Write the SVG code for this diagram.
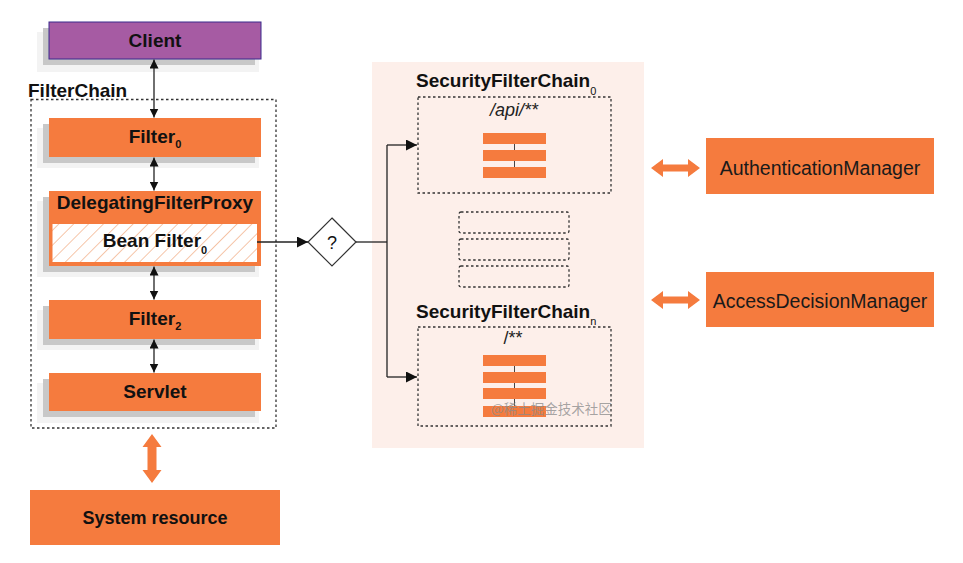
<svg xmlns="http://www.w3.org/2000/svg" width="963" height="563" viewBox="0 0 963 563">
<defs>
<style>
.halo{fill:#f3f3f3}
.shadow{fill:#c8c8c8}
.orange{fill:#f57b3e}
.lbl{font-family:"Liberation Sans",Arial,sans-serif;font-weight:bold;font-size:19px;fill:#111}
.sub{font-size:11px}
.mgr{font-family:"Liberation Sans",Arial,sans-serif;font-size:19.5px;fill:#1a1a1a}
.dash{fill:none;stroke:#333;stroke-width:1.3;stroke-dasharray:2.5 2.5}
.conn{fill:none;stroke:#222;stroke-width:1.3}
.bar{fill:#f57b3e}
.fat{fill:#f57b3e}
</style>
<marker id="ah" viewBox="0 0 10 10" refX="10" refY="5" markerWidth="9" markerHeight="9" markerUnits="userSpaceOnUse" orient="auto-start-reverse">
<path d="M0,0 L10,5 L0,10 z" fill="#111"/>
</marker>
<marker id="ah2" viewBox="0 0 10 10" refX="10" refY="5" markerWidth="12" markerHeight="11" markerUnits="userSpaceOnUse" orient="auto-start-reverse">
<path d="M0,0 L10,5 L0,10 z" fill="#111"/>
</marker>
<pattern id="hatch" patternUnits="userSpaceOnUse" width="10.5" height="10.5" patternTransform="rotate(45)">
<rect width="10.5" height="10.5" fill="#ffffff"/>
<line x1="0" y1="0" x2="0" y2="10.5" stroke="#f0a070" stroke-width="1.2"/>
</pattern>
</defs>
<rect width="963" height="563" fill="#ffffff"/>

<!-- security panel background -->
<rect id="panel" x="372" y="62" width="272" height="386" fill="#fdefea"/>

<text x="28" y="97" class="lbl">FilterChain</text>
<rect id="filterchain" x="31" y="99.5" width="245" height="328.5" class="dash"/>

<g id="client">
<rect x="37" y="32" width="222" height="40" class="halo"/>
<rect x="43" y="28" width="212" height="37" class="shadow"/>
<rect x="49" y="22" width="212" height="37" fill="#a65ba3" stroke="#3b2b8c" stroke-width="1"/>
<text x="155" y="46.5" text-anchor="middle" class="lbl">Client</text>
</g>

<g id="filter0">
<rect x="37" y="128" width="222" height="40" class="halo"/>
<rect x="43" y="124" width="212" height="39" class="shadow"/>
<rect x="49" y="118" width="212" height="39" class="orange"/>
<text x="155" y="143" text-anchor="middle" class="lbl">Filter<tspan class="sub" dy="5">0</tspan></text>
</g>

<g id="delegating">
<rect x="37" y="201" width="222" height="76" class="halo"/>
<rect x="43" y="197" width="212" height="75" class="shadow"/>
<rect x="49" y="191" width="212" height="75" class="orange"/>
<text x="155" y="209" text-anchor="middle" class="lbl">DelegatingFilterProxy</text>
<rect x="52.5" y="224" width="204.5" height="38" fill="url(#hatch)"/>
<text x="155" y="247" text-anchor="middle" class="lbl">Bean Filter<tspan class="sub" dy="7">0</tspan></text>
</g>

<g id="filter2">
<rect x="37" y="310" width="222" height="40" class="halo"/>
<rect x="43" y="306" width="212" height="39" class="shadow"/>
<rect x="49" y="300" width="212" height="39" class="orange"/>
<text x="155" y="325" text-anchor="middle" class="lbl">Filter<tspan class="sub" dy="5">2</tspan></text>
</g>

<g id="servlet">
<rect x="37" y="383" width="222" height="40" class="halo"/>
<rect x="43" y="379" width="212" height="38" class="shadow"/>
<rect x="49" y="373" width="212" height="38" class="orange"/>
<text x="155" y="398" text-anchor="middle" class="lbl">Servlet</text>
</g>

<g id="system-resource">
<rect x="30" y="490" width="250" height="55" class="orange"/>
<text x="155" y="524" text-anchor="middle" class="lbl" style="font-size:18px">System resource</text>
</g>

<g id="decision">
<polygon points="332,218 356,242 332,266 308,242" fill="#ffffff" stroke="#333" stroke-width="1.2"/>
<text x="332" y="248.5" text-anchor="middle" font-family="Liberation Sans, Arial, sans-serif" font-size="18" fill="#111">?</text>
</g>

<g id="sfc0">
<text x="416" y="87" class="lbl">SecurityFilterChain<tspan class="sub" style="font-weight:normal" dy="8">0</tspan></text>
<rect x="418" y="97" width="193" height="96" class="dash"/>
<text x="514" y="116" text-anchor="middle" font-family="Liberation Sans, Arial, sans-serif" font-style="italic" font-size="18" fill="#222">/api/**</text>
<line x1="514.5" y1="138" x2="514.5" y2="173" stroke="#444" stroke-width="1"/>
<rect x="483" y="133" width="63" height="11" class="bar"/>
<rect x="483" y="150" width="63" height="11" class="bar"/>
<rect x="483" y="167" width="63" height="11" class="bar"/>
</g>

<g id="sfc-placeholders">
<rect x="459" y="212" width="110" height="21" rx="2" class="dash"/>
<rect x="459" y="239" width="110" height="21" rx="2" class="dash"/>
<rect x="459" y="266" width="110" height="21" rx="2" class="dash"/>
</g>

<g id="sfcn">
<text x="416" y="318" class="lbl">SecurityFilterChain<tspan class="sub" style="font-weight:normal" dy="7">n</tspan></text>
<rect x="418" y="327" width="193" height="99" class="dash"/>
<text x="513" y="344" text-anchor="middle" font-family="Liberation Sans, Arial, sans-serif" font-size="18" fill="#222">/**</text>
<line x1="514.5" y1="360" x2="514.5" y2="412" stroke="#444" stroke-width="1"/>
<rect x="483" y="355" width="63" height="11" class="bar"/>
<rect x="483" y="372" width="63" height="11" class="bar"/>
<rect x="483" y="388" width="63" height="11" class="bar"/>
<rect x="483" y="406" width="63" height="11" class="bar"/>
</g>

<g id="auth-manager">
<rect x="706" y="138" width="228" height="56" class="orange"/>
<text x="820" y="175" text-anchor="middle" class="mgr">AuthenticationManager</text>
</g>

<g id="access-manager">
<rect x="706" y="272" width="228" height="55" class="orange"/>
<text x="820" y="308" text-anchor="middle" class="mgr">AccessDecisionManager</text>
</g>

<g id="connectors">
<line x1="154" y1="59.5" x2="154" y2="117.5" class="conn" marker-start="url(#ah)" marker-end="url(#ah)"/>
<line x1="154" y1="157.5" x2="154" y2="190.5" class="conn" marker-start="url(#ah)" marker-end="url(#ah)"/>
<line x1="154" y1="266.5" x2="154" y2="299.5" class="conn" marker-start="url(#ah)" marker-end="url(#ah)"/>
<line x1="154" y1="339.5" x2="154" y2="372.5" class="conn" marker-start="url(#ah)" marker-end="url(#ah)"/>
<line x1="257" y1="242" x2="308" y2="242" class="conn" marker-end="url(#ah2)"/>
<polyline points="356,242 387,242" class="conn"/>
<line x1="387" y1="145" x2="387" y2="377" class="conn"/>
<line x1="387" y1="145" x2="417" y2="145" class="conn" marker-end="url(#ah2)"/>
<line x1="387" y1="377" x2="417" y2="377" class="conn" marker-end="url(#ah2)"/>
<polygon class="fat" points="651,168 663,159 663,164.5 688,164.5 688,159 700,168 688,177 688,171.5 663,171.5 663,177"/>
<polygon class="fat" points="651,300 663,291 663,296.5 688,296.5 688,291 700,300 688,309 688,303.5 663,303.5 663,309"/>
<polygon class="fat" points="152,434 161.5,447 156.5,447 156.5,470 161.5,470 152,483 142.5,470 147.5,470 147.5,447 142.5,447"/>
</g>

<text x="491" y="414" font-family="Noto Sans CJK SC, sans-serif" font-size="13.5" fill="#8a8a8a" fill-opacity="0.75">@稀土掘金技术社区</text>
</svg>
